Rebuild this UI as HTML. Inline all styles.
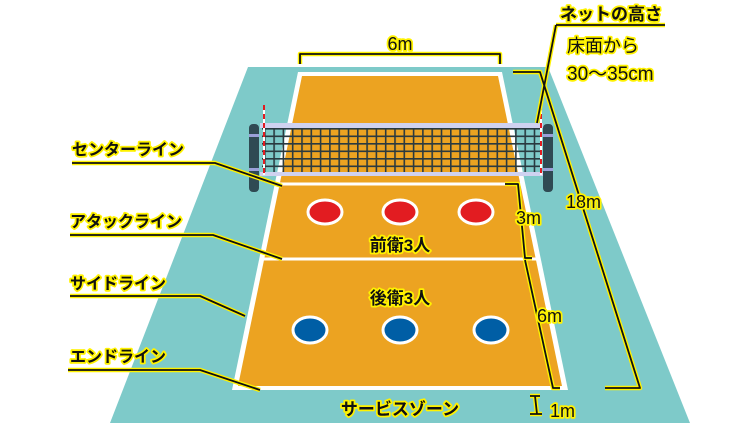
<!DOCTYPE html>
<html><head><meta charset="utf-8"><style>
body{margin:0;background:#fff}
svg text{font-family:"Liberation Sans","Noto Sans CJK JP",sans-serif;font-weight:bold;fill:#111;stroke:#fff200;stroke-width:3.5px;paint-order:stroke;stroke-linejoin:round}
.t2{font-weight:normal}
.ln{fill:none;stroke:#fff200;stroke-width:4.5;stroke-linejoin:round}
.lk{fill:none;stroke:#111;stroke-width:1.8;stroke-linejoin:round}
</style></head><body>
<svg width="745" height="426" viewBox="0 0 745 426" xmlns="http://www.w3.org/2000/svg">
<polygon points="248,67 548,67 690,423 110,423" fill="#7ecac9"/>
<polygon points="298,72 502,72 568,390 232,390" fill="#fff"/>
<polygon points="302,76 498,76 562,386 238,386" fill="#eca321"/>
<line x1="276" y1="184" x2="524" y2="184" stroke="#fff" stroke-width="3"/>
<line x1="260" y1="259" x2="540" y2="259" stroke="#fff" stroke-width="3"/>
<g stroke="#fff" stroke-width="3">
<ellipse cx="325" cy="212" rx="17" ry="12" fill="#e21c21"/>
<ellipse cx="400" cy="212" rx="17" ry="12" fill="#e21c21"/>
<ellipse cx="476" cy="212" rx="17" ry="12" fill="#e21c21"/>
<ellipse cx="310" cy="330" rx="17" ry="13" fill="#005ea5"/>
<ellipse cx="400" cy="330" rx="17" ry="13" fill="#005ea5"/>
<ellipse cx="491" cy="330" rx="17" ry="13" fill="#005ea5"/>
</g>
<defs><pattern id="mesh" width="9.3" height="7.5" patternUnits="userSpaceOnUse" x="264" y="128"><path d="M0.8 0V7.5M0 0.8H9.3" stroke="#2a3a40" stroke-width="1.6" fill="none"/></pattern></defs>
<rect x="249" y="124" width="10" height="68" rx="4" fill="#2f4a53"/>
<rect x="543" y="124" width="10" height="68" rx="4" fill="#2f4a53"/>
<rect x="249" y="134" width="10" height="3" fill="#9aa0d8"/>
<rect x="249" y="168" width="10" height="3" fill="#9aa0d8"/>
<rect x="543" y="134" width="10" height="3" fill="#9aa0d8"/>
<rect x="543" y="168" width="10" height="3" fill="#9aa0d8"/>
<rect x="262" y="128" width="279" height="44" fill="url(#mesh)"/>
<rect x="260" y="123" width="283" height="5" fill="#cfd2f0"/>
<rect x="260" y="172" width="283" height="4" fill="#cfd2f0"/>
<line x1="264" y1="105" x2="264" y2="175" stroke="#fff" stroke-width="2"/>
<line x1="264" y1="105" x2="264" y2="175" stroke="#e21c21" stroke-width="2" stroke-dasharray="5,4"/>
<line x1="541" y1="105" x2="541" y2="175" stroke="#fff" stroke-width="2"/>
<line x1="541" y1="105" x2="541" y2="175" stroke="#e21c21" stroke-width="2" stroke-dasharray="5,4"/>
<g class="ln">
<polyline points="300,64 300,54 500,54 500,64"/><polyline points="556,25 665,25"/><polyline points="556,25 537,123"/>
<polyline points="513,72 540,72 640,388 605,388"/><polyline points="505,184 518,184 525,258 532,258"/><polyline points="525,260 553,388 560,388"/>
<path d="M530,396H540M535,396L537,414M530,414H542"/>
<polyline points="72,163 215,163 282,186"/><polyline points="70,235 213,235 282,259"/><polyline points="70,296 200,296 245,316"/><polyline points="68,370 200,370 260,390"/>
</g>
<g class="lk">
<polyline points="300,64 300,54 500,54 500,64"/><polyline points="556,25 665,25"/><polyline points="556,25 537,123"/>
<polyline points="513,72 540,72 640,388 605,388"/><polyline points="505,184 518,184 525,258 532,258"/><polyline points="525,260 553,388 560,388"/>
<path d="M530,396H540M535,396L537,414M530,414H542"/>
<polyline points="72,163 215,163 282,186"/><polyline points="70,235 213,235 282,259"/><polyline points="70,296 200,296 245,316"/><polyline points="68,370 200,370 260,390"/>
</g>
<text x="400" y="50" font-size="18" text-anchor="middle" class="t2">6m</text>
<text x="560" y="20" font-size="17">ネットの高さ</text>
<text x="567" y="52" font-size="18" class="t2">床面から</text>
<text x="567" y="80" font-size="19" class="t2">30〜35cm</text>
<text x="566" y="208" font-size="18" class="t2">18m</text>
<text x="516" y="224" font-size="18" class="t2">3m</text>
<text x="537" y="322" font-size="18" class="t2">6m</text>
<text x="550" y="417" font-size="18" class="t2">1m</text>
<text x="400" y="251" font-size="17" text-anchor="middle">前衛3人</text>
<text x="400" y="304" font-size="17" text-anchor="middle">後衛3人</text>
<text x="400" y="415" font-size="17" text-anchor="middle">サービスゾーン</text>
<text x="72" y="155" font-size="16">センターライン</text>
<text x="70" y="227" font-size="16">アタックライン</text>
<text x="70" y="289" font-size="16">サイドライン</text>
<text x="70" y="362" font-size="16">エンドライン</text>
</svg>
</body></html>
